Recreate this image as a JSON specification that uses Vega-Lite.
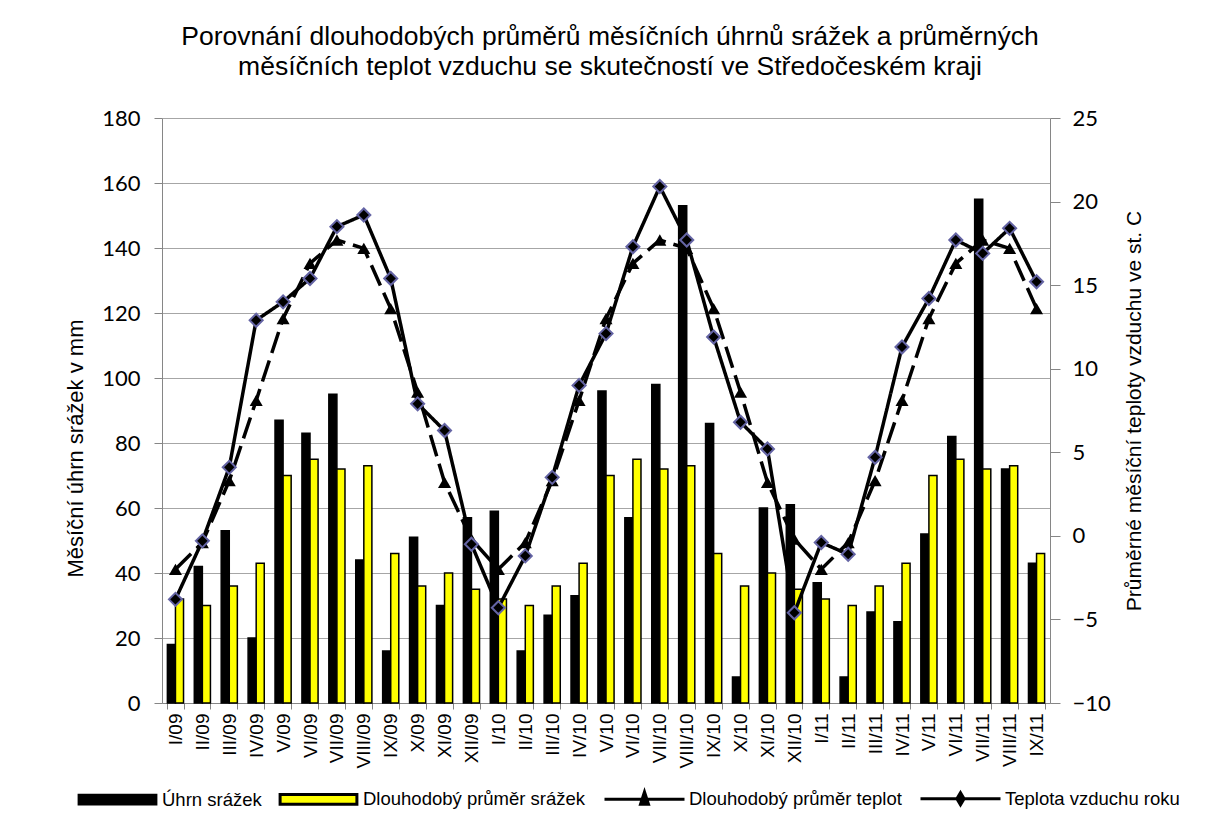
{
  "$schema": "https://vega.github.io/schema/vega-lite/v6.json",
  "width": 888,
  "height": 585,
  "autosize": {"type": "none"},
  "padding": {"left": 162, "top": 118, "right": 163, "bottom": 117},
  "background": "white",
  "config": {
    "view": {"stroke": null},
    "axis": {"domainColor": "#868686", "tickColor": "#868686", "gridColor": "#a6a6a6", "labelColor": "black", "titleColor": "black", "titleFontWeight": "normal"}
  },
  "title": {
    "text": ["Porovnání dlouhodobých průměrů měsíčních úhrnů srážek a průměrných", "měsíčních teplot vzduchu se skutečností ve Středočeském kraji"],
    "font": "Liberation Sans",
    "fontSize": 26.5,
    "fontWeight": "normal",
    "color": "black",
    "lineHeight": 30,
    "offset": 27,
    "anchor": "middle",
    "dx": 4
  },
  "data": {
    "values": [
      {"mesic": "I/09", "Úhrn srážek": 18, "Dlouhodobý průměr srážek": 32, "Dlouhodobý průměr teplot": -2.0, "Teplota vzduchu roku": -3.8},
      {"mesic": "II/09", "Úhrn srážek": 42, "Dlouhodobý průměr srážek": 30, "Dlouhodobý průměr teplot": -0.4, "Teplota vzduchu roku": -0.3},
      {"mesic": "III/09", "Úhrn srážek": 53, "Dlouhodobý průměr srážek": 36, "Dlouhodobý průměr teplot": 3.3, "Teplota vzduchu roku": 4.1},
      {"mesic": "IV/09", "Úhrn srážek": 20, "Dlouhodobý průměr srážek": 43, "Dlouhodobý průměr teplot": 8.1, "Teplota vzduchu roku": 12.9},
      {"mesic": "V/09", "Úhrn srážek": 87, "Dlouhodobý průměr srážek": 70, "Dlouhodobý průměr teplot": 13.0, "Teplota vzduchu roku": 14.0},
      {"mesic": "VI/09", "Úhrn srážek": 83, "Dlouhodobý průměr srážek": 75, "Dlouhodobý průměr teplot": 16.3, "Teplota vzduchu roku": 15.4},
      {"mesic": "VII/09", "Úhrn srážek": 95, "Dlouhodobý průměr srážek": 72, "Dlouhodobý průměr teplot": 17.7, "Teplota vzduchu roku": 18.5},
      {"mesic": "VIII/09", "Úhrn srážek": 44, "Dlouhodobý průměr srážek": 73, "Dlouhodobý průměr teplot": 17.2, "Teplota vzduchu roku": 19.2},
      {"mesic": "IX/09", "Úhrn srážek": 16, "Dlouhodobý průměr srážek": 46, "Dlouhodobý průměr teplot": 13.6, "Teplota vzduchu roku": 15.4},
      {"mesic": "X/09", "Úhrn srážek": 51, "Dlouhodobý průměr srážek": 36, "Dlouhodobý průměr teplot": 8.6, "Teplota vzduchu roku": 7.9},
      {"mesic": "XI/09", "Úhrn srážek": 30, "Dlouhodobý průměr srážek": 40, "Dlouhodobý průměr teplot": 3.2, "Teplota vzduchu roku": 6.3},
      {"mesic": "XII/09", "Úhrn srážek": 57, "Dlouhodobý průměr srážek": 35, "Dlouhodobý průměr teplot": -0.2, "Teplota vzduchu roku": -0.5},
      {"mesic": "I/10", "Úhrn srážek": 59, "Dlouhodobý průměr srážek": 32, "Dlouhodobý průměr teplot": -2.0, "Teplota vzduchu roku": -4.3},
      {"mesic": "II/10", "Úhrn srážek": 16, "Dlouhodobý průměr srážek": 30, "Dlouhodobý průměr teplot": -0.4, "Teplota vzduchu roku": -1.2},
      {"mesic": "III/10", "Úhrn srážek": 27, "Dlouhodobý průměr srážek": 36, "Dlouhodobý průměr teplot": 3.3, "Teplota vzduchu roku": 3.5},
      {"mesic": "IV/10", "Úhrn srážek": 33, "Dlouhodobý průměr srážek": 43, "Dlouhodobý průměr teplot": 8.1, "Teplota vzduchu roku": 9.0},
      {"mesic": "V/10", "Úhrn srážek": 96, "Dlouhodobý průměr srážek": 70, "Dlouhodobý průměr teplot": 13.0, "Teplota vzduchu roku": 12.1},
      {"mesic": "VI/10", "Úhrn srážek": 57, "Dlouhodobý průměr srážek": 75, "Dlouhodobý průměr teplot": 16.3, "Teplota vzduchu roku": 17.3},
      {"mesic": "VII/10", "Úhrn srážek": 98, "Dlouhodobý průměr srážek": 72, "Dlouhodobý průměr teplot": 17.7, "Teplota vzduchu roku": 20.9},
      {"mesic": "VIII/10", "Úhrn srážek": 153, "Dlouhodobý průměr srážek": 73, "Dlouhodobý průměr teplot": 17.2, "Teplota vzduchu roku": 17.7},
      {"mesic": "IX/10", "Úhrn srážek": 86, "Dlouhodobý průměr srážek": 46, "Dlouhodobý průměr teplot": 13.6, "Teplota vzduchu roku": 11.9},
      {"mesic": "X/10", "Úhrn srážek": 8, "Dlouhodobý průměr srážek": 36, "Dlouhodobý průměr teplot": 8.6, "Teplota vzduchu roku": 6.8},
      {"mesic": "XI/10", "Úhrn srážek": 60, "Dlouhodobý průměr srážek": 40, "Dlouhodobý průměr teplot": 3.2, "Teplota vzduchu roku": 5.2},
      {"mesic": "XII/10", "Úhrn srážek": 61, "Dlouhodobý průměr srážek": 35, "Dlouhodobý průměr teplot": -0.2, "Teplota vzduchu roku": -4.6},
      {"mesic": "I/11", "Úhrn srážek": 37, "Dlouhodobý průměr srážek": 32, "Dlouhodobý průměr teplot": -2.0, "Teplota vzduchu roku": -0.4},
      {"mesic": "II/11", "Úhrn srážek": 8, "Dlouhodobý průměr srážek": 30, "Dlouhodobý průměr teplot": -0.4, "Teplota vzduchu roku": -1.1},
      {"mesic": "III/11", "Úhrn srážek": 28, "Dlouhodobý průměr srážek": 36, "Dlouhodobý průměr teplot": 3.3, "Teplota vzduchu roku": 4.7},
      {"mesic": "IV/11", "Úhrn srážek": 25, "Dlouhodobý průměr srážek": 43, "Dlouhodobý průměr teplot": 8.1, "Teplota vzduchu roku": 11.3},
      {"mesic": "V/11", "Úhrn srážek": 52, "Dlouhodobý průměr srážek": 70, "Dlouhodobý průměr teplot": 13.0, "Teplota vzduchu roku": 14.2},
      {"mesic": "VI/11", "Úhrn srážek": 82, "Dlouhodobý průměr srážek": 75, "Dlouhodobý průměr teplot": 16.3, "Teplota vzduchu roku": 17.7},
      {"mesic": "VII/11", "Úhrn srážek": 155, "Dlouhodobý průměr srážek": 72, "Dlouhodobý průměr teplot": 17.7, "Teplota vzduchu roku": 16.9},
      {"mesic": "VIII/11", "Úhrn srážek": 72, "Dlouhodobý průměr srážek": 73, "Dlouhodobý průměr teplot": 17.2, "Teplota vzduchu roku": 18.4},
      {"mesic": "IX/11", "Úhrn srážek": 43, "Dlouhodobý průměr srážek": 46, "Dlouhodobý průměr teplot": 13.6, "Teplota vzduchu roku": 15.2}
    ]
  },
  "layer": [
    {
      "transform": [{"fold": ["Úhrn srážek", "Dlouhodobý průměr srážek"], "as": ["rada", "mm"]}],
      "mark": {"type": "bar", "stroke": "black", "strokeWidth": 1.5},
      "encoding": {
        "x": {
          "field": "mesic",
          "type": "nominal",
          "scale": {
            "domain": ["I/09","II/09","III/09","IV/09","V/09","VI/09","VII/09","VIII/09","IX/09","X/09","XI/09","XII/09","I/10","II/10","III/10","IV/10","V/10","VI/10","VII/10","VIII/10","IX/10","X/10","XI/10","XII/10","I/11","II/11","III/11","IV/11","V/11","VI/11","VII/11","VIII/11","IX/11"],
            "paddingInner": 0.4,
            "paddingOuter": 0.2
          },
          "axis": {"title": null, "labelAngle": 270, "labelFont": "Liberation Sans", "labelFontSize": 19, "labelPadding": 4, "tickBand": "extent", "tickSize": 6, "grid": false}
        },
        "xOffset": {"field": "rada", "type": "nominal", "scale": {"domain": ["Úhrn srážek", "Dlouhodobý průměr srážek"], "paddingInner": 0, "paddingOuter": 0}},
        "y": {
          "field": "mm",
          "type": "quantitative",
          "scale": {"domain": [0, 180], "nice": false},
          "axis": {"title": "Měsíční úhrn srážek v mm", "titleFont": "Liberation Sans", "titleFontSize": 22, "titlePadding": 14, "titleY": 330, "values": [0, 20, 40, 60, 80, 100, 120, 140, 160, 180], "labelFont": "Lato", "labelFontSize": 22, "labelPadding": 14, "tickSize": 8, "grid": true}
        },
        "color": {
          "field": "rada",
          "type": "nominal",
          "scale": {"domain": ["Úhrn srážek", "Dlouhodobý průměr srážek", "Dlouhodobý průměr teplot", "Teplota vzduchu roku"], "range": ["#000000", "#ffff00", "#000000", "#000000"]},
          "legend": {
            "title": null,
            "orient": "none",
            "direction": "horizontal",
            "legendX": -86,
            "legendY": 639,
            "padding": 0,
            "symbolSize": 6400,
            "symbolStrokeWidth": 3,
            "symbolStrokeColor": "black",
            "labelFont": "Liberation Sans",
            "labelFontSize": 18.5,
            "labelColor": "black",
            "labelOffset": 3,
            "columnPadding": 12,
            "labelLimit": 400
          }
        }
      }
    },
    {
      "transform": [{"fold": ["Dlouhodobý průměr teplot", "Teplota vzduchu roku"], "as": ["rada", "t"]}],
      "encoding": {
        "x": {"field": "mesic", "type": "nominal"},
        "y": {
          "field": "t",
          "type": "quantitative",
          "scale": {"domain": [-10, 25], "nice": false},
          "axis": {"orient": "right", "title": "Průměrné měsíční teploty vzduchu ve st. C", "titleAngle": 270, "titleFont": "Liberation Sans", "titleFontSize": 21, "titlePadding": 34, "values": [-10, -5, 0, 5, 10, 15, 20, 25], "labelFont": "Lato", "labelFontSize": 22, "labelPadding": 12, "tickSize": 10, "grid": false}
        }
      },
      "layer": [
        {
          "mark": {"type": "line", "strokeWidth": 3.5, "stroke": "black"},
          "encoding": {
            "detail": {"field": "rada", "type": "nominal"},
            "strokeDash": {"field": "rada", "type": "nominal", "scale": {"domain": ["Dlouhodobý průměr teplot", "Teplota vzduchu roku"], "range": [[22, 8], [1, 0]]}, "legend": null}
          }
        },
        {
          "transform": [{"filter": "datum.rada === 'Dlouhodobý průměr teplot'"}],
          "mark": {"type": "point", "shape": "triangle-up", "filled": true, "fill": "black", "size": 170, "opacity": 1}
        },
        {
          "transform": [{"filter": "datum.rada === 'Teplota vzduchu roku'"}],
          "mark": {"type": "point", "shape": "diamond", "filled": true, "fill": "black", "stroke": "#6464a4", "strokeWidth": 2, "size": 170, "opacity": 1}
        }
      ]
    },
    {
      "transform": [
        {"fold": ["Úhrn srážek", "Dlouhodobý průměr srážek", "Dlouhodobý průměr teplot", "Teplota vzduchu roku"], "as": ["rada", "v"]},
        {"filter": "false"}
      ],
      "mark": {"type": "point", "filled": true, "stroke": "black", "strokeWidth": 3, "size": 6400, "opacity": 1},
      "encoding": {
        "color": {"field": "rada", "type": "nominal"},
        "shape": {
          "field": "rada",
          "type": "nominal",
          "scale": {
            "domain": ["Úhrn srážek", "Dlouhodobý průměr srážek", "Dlouhodobý průměr teplot", "Teplota vzduchu roku"],
            "range": ["M-0.96,-0.11H0.96V0.11H-0.96Z", "M-0.96,-0.12H0.96V0.12H-0.96Z", "M-1,0H1M0,-0.18L0.1,0.13L-0.1,0.13Z", "M-1,0H1M0,-0.15L0.09,0L0,0.15L-0.09,0Z"]
          }
        }
      }
    }
  ],
  "resolve": {"scale": {"y": "independent"}}
}
